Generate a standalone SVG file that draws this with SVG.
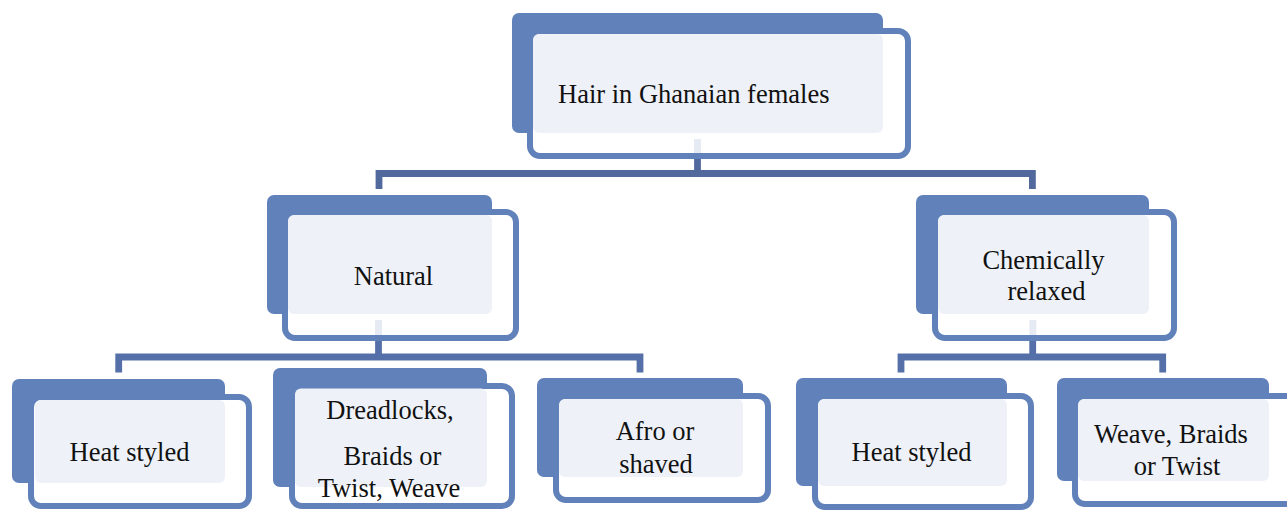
<svg xmlns="http://www.w3.org/2000/svg" width="1287" height="510" viewBox="0 0 1287 510">
<style>
.f{fill:#6181BB}
.o{fill:#FFFFFF;stroke:#6181BB;stroke-width:6}
.l{fill:#EEF1F8}
.s{fill:#E6EAF3}
.c{fill:none;stroke:#52699E;stroke-width:6.8;stroke-linejoin:miter;stroke-linecap:butt}
.c2{fill:none;stroke:#5570A8;stroke-width:6.8;stroke-linejoin:miter;stroke-linecap:butt}
text{font-family:'Liberation Serif','Times New Roman',serif;font-size:26.5px;fill:#111111}
.m{text-anchor:middle}
</style>
<rect width="1287" height="510" fill="#FFFFFF"/>
<g id="connectors">
<path class="c" d="M379,189 V173.5 H1032.4 V189"/>
<path class="c" d="M697.5,158 V173.5"/>
<path class="c2" d="M118.7,372.5 V357 H640 V372.5"/>
<path class="c2" d="M378.5,340 V357"/>
<path class="c2" d="M901,372.5 V357 H1162.7 V372.5"/>
<path class="c2" d="M1032.7,340 V357"/>
</g>
<g id="node-root" font-family="Liberation Serif, serif">
<rect class="f" x="512" y="13" width="371" height="120" rx="7"/>
<rect class="o" x="530" y="31" width="378" height="125" rx="10"/>
<rect class="l" x="533" y="34" width="350" height="99" rx="6"/>
<rect class="s" x="694" y="139" width="7" height="14"/>
<text x="558" y="103">Hair in Ghanaian females</text>
</g>
<g id="node-natural" font-family="Liberation Serif, serif">
<rect class="f" x="267" y="195" width="225" height="119" rx="7"/>
<rect class="o" x="285" y="212" width="231" height="126" rx="10"/>
<rect class="l" x="288" y="215" width="204" height="99" rx="6"/>
<rect class="s" x="375" y="320" width="7" height="15"/>
<text class="m" x="393.5" y="285">Natural</text>
</g>
<g id="node-chemical" font-family="Liberation Serif, serif">
<rect class="f" x="916" y="195" width="233" height="119" rx="7"/>
<rect class="o" x="935" y="212" width="239" height="126" rx="10"/>
<rect class="l" x="938" y="215" width="211" height="99" rx="6"/>
<rect class="s" x="1029.3" y="320" width="7" height="15"/>
<text class="m" x="1043.5" y="268.5">Chemically</text>
<text class="m" x="1046.5" y="300">relaxed</text>
</g>
<g id="node-heat1" font-family="Liberation Serif, serif">
<rect class="f" x="12" y="379" width="213" height="104" rx="7"/>
<rect class="o" x="31" y="397" width="218" height="109" rx="10"/>
<rect class="l" x="35" y="400" width="190" height="83" rx="6"/>
<text class="m" x="129.5" y="460.5">Heat styled</text>
</g>
<g id="node-dreadlocks" font-family="Liberation Serif, serif">
<rect class="f" x="273" y="368" width="214" height="119" rx="7"/>
<rect class="o" x="292" y="386" width="220" height="120" rx="10"/>
<rect class="l" x="295" y="388.5" width="192" height="98.5" rx="6"/>
<text class="m" x="390" y="419">Dreadlocks,</text>
<text class="m" x="392.5" y="465">Braids or</text>
<text class="m" x="389" y="496.5">Twist, Weave</text>
</g>
<g id="node-afro" font-family="Liberation Serif, serif">
<rect class="f" x="537" y="378" width="206" height="99" rx="7"/>
<rect class="o" x="556" y="396" width="212" height="104" rx="10"/>
<rect class="l" x="559" y="399" width="184" height="78" rx="6"/>
<text class="m" x="655" y="440">Afro or</text>
<text class="m" x="656" y="473">shaved</text>
</g>
<g id="node-heat2" font-family="Liberation Serif, serif">
<rect class="f" x="796" y="378" width="211" height="108" rx="7"/>
<rect class="o" x="815" y="396" width="216" height="111" rx="10"/>
<rect class="l" x="818" y="399" width="189" height="87" rx="6"/>
<text class="m" x="911.5" y="460.5">Heat styled</text>
</g>
<g id="node-weave" font-family="Liberation Serif, serif">
<rect class="f" x="1057" y="378" width="212" height="103" rx="7"/>
<rect class="o" x="1075" y="396" width="225" height="108" rx="10"/>
<rect class="l" x="1078" y="399" width="191" height="82" rx="6"/>
<text class="m" x="1171" y="443">Weave, Braids</text>
<text class="m" x="1177" y="475">or Twist</text>
</g>
</svg>
